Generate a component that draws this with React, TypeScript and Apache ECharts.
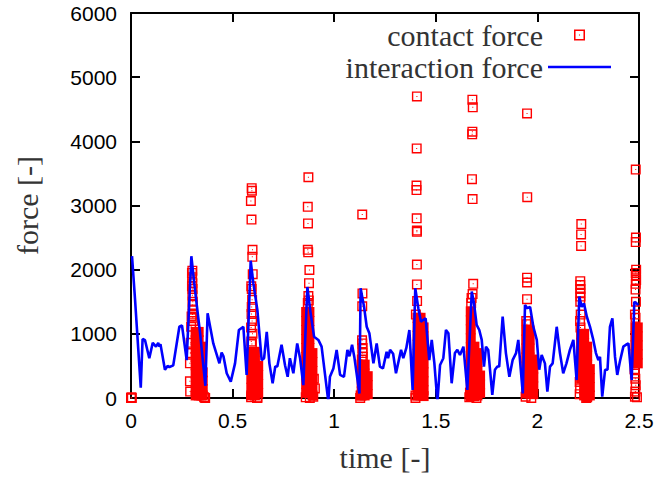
import React, { useEffect, useRef } from "react";
import * as echarts from "echarts";

const xTicks = [0, 0.5, 1, 1.5, 2, 2.5];
const yTicks = [0, 1000, 2000, 3000, 4000, 5000, 6000];
const seriesNames = ["contact force", "interaction force"];
const axisNames = { x: "time [-]", y: "force [-]" };

// interaction force: [time, force]
const interactionForce: [number, number][] = [
  [0.005, 2210], [0.02, 1530], [0.048, 160], [0.057, 920], [0.069, 900], [0.09, 620],
  [0.107, 860], [0.123, 800], [0.134, 860], [0.14, 800], [0.145, 840], [0.167, 440],
  [0.18, 500], [0.189, 480], [0.208, 510], [0.238, 1110], [0.251, 1130], [0.274, 590],
  [0.297, 2210], [0.315, 1680], [0.34, 1010], [0.366, 190], [0.377, 1320], [0.405, 850],
  [0.435, 540], [0.446, 710], [0.455, 650], [0.471, 385], [0.491, 255], [0.512, 540],
  [0.531, 1060], [0.553, 1110], [0.569, 360], [0.589, 2140], [0.602, 1790], [0.622, 1370],
  [0.643, 590], [0.655, 620], [0.668, 1030], [0.681, 540], [0.697, 230], [0.71, 490],
  [0.72, 490], [0.741, 830], [0.758, 510], [0.771, 330], [0.782, 620], [0.799, 385],
  [0.818, 850], [0.832, 620], [0.848, 200], [0.868, 1730], [0.884, 1320], [0.901, 955],
  [0.922, 905], [0.938, 800], [0.971, -50], [0.979, 330], [0.996, 460], [1.012, 750],
  [1.029, 360], [1.048, 330], [1.065, 750], [1.075, 650], [1.088, 830], [1.099, 640],
  [1.124, 70], [1.13, 1710], [1.147, 1420], [1.16, 1110], [1.173, 1010], [1.193, 540],
  [1.209, 850], [1.225, 490], [1.24, 460], [1.258, 720], [1.265, 620], [1.275, 750],
  [1.29, 690], [1.304, 385], [1.329, 750], [1.34, 620], [1.355, 780], [1.37, 1060],
  [1.386, 125], [1.399, 1710], [1.414, 1400], [1.427, 1190], [1.438, 1215], [1.45, 1240],
  [1.468, 590], [1.48, 905], [1.493, 540], [1.508, -60], [1.521, 515], [1.537, 620],
  [1.55, 1060], [1.562, 1010], [1.578, 230], [1.594, 700], [1.606, 750], [1.619, 670],
  [1.636, 800], [1.655, 125], [1.677, 1660], [1.688, 1475], [1.701, 1140], [1.714, 1060],
  [1.726, 905], [1.737, 490], [1.747, 800], [1.758, 750], [1.778, 50], [1.791, 440],
  [1.803, 490], [1.812, 490], [1.829, 1270], [1.845, 700], [1.862, 330], [1.878, 590],
  [1.895, 700], [1.906, 905], [1.928, 70], [1.939, 1450], [1.95, 1400], [1.964, 1420],
  [1.98, 1110], [1.997, 905], [2.009, 440], [2.021, 670], [2.037, 540], [2.049, 100],
  [2.062, 490], [2.075, 540], [2.095, 1110], [2.111, 700], [2.127, 385], [2.143, 540],
  [2.16, 750], [2.177, 905], [2.193, 280], [2.206, 1580], [2.218, 1420], [2.229, 1475],
  [2.243, 1270], [2.259, 1110], [2.275, 905], [2.288, 700], [2.3, 590], [2.308, 640],
  [2.319, 20], [2.333, 440], [2.345, 440], [2.357, 1110], [2.369, 1240], [2.382, 640],
  [2.393, 360], [2.406, 570], [2.423, 800], [2.436, 830], [2.448, 850], [2.464, 280],
  [2.477, 1500], [2.488, 1475], [2.496, 1450],
];

// contact force: individually visible samples [time, force]
const contactForcePoints: [number, number][] = [
  [0, 0], [0.002, 10], [0.004, 0],
  [0.302, 1985], [0.3, 1950], [0.301, 1880], [0.302, 1790], [0.3, 1740], [0.303, 1700],
  [0.302, 1600], [0.304, 1500], [0.303, 1450], [0.305, 1380], [0.303, 1300], [0.298, 1270],
  [0.304, 1250], [0.306, 1200], [0.296, 1110], [0.294, 860], [0.292, 700], [0.29, 540],
  [0.29, 260], [0.291, 100], [0.36, 10], [0.365, 0],
  [0.594, 3270], [0.595, 3230], [0.59, 3070], [0.593, 2780], [0.598, 2310], [0.597, 2200],
  [0.599, 1930], [0.592, 1740], [0.594, 1700], [0.596, 1530], [0.594, 1420], [0.593, 1310],
  [0.596, 1200], [0.591, 1100], [0.598, 1000], [0.592, 880], [0.595, 840], [0.591, 10],
  [0.62, 0], [0.623, 5],
  [0.873, 3440], [0.87, 2980], [0.871, 2720], [0.87, 2310], [0.872, 2270], [0.878, 1995],
  [0.876, 1790], [0.873, 1590], [0.87, 1480], [0.875, 1520], [0.88, 450], [0.9, 300],
  [0.905, 150], [0.86, 10], [0.88, 0], [0.897, 20],
  [1.138, 2860], [1.139, 1630], [1.138, 1430], [1.137, 900], [1.138, 850], [1.14, 780],
  [1.139, 700], [1.141, 640], [1.136, 600], [1.13, 40], [1.128, 0],
  [1.407, 4700], [1.406, 3890], [1.405, 3310], [1.405, 3240], [1.406, 2800], [1.407, 2610],
  [1.407, 2590], [1.407, 2080], [1.407, 1770], [1.408, 1510], [1.402, 1300], [1.4, 40], [1.4, 0],
  [1.68, 4650], [1.682, 4530], [1.68, 4150], [1.679, 4110], [1.678, 3410], [1.681, 3100],
  [1.684, 1780], [1.681, 1620], [1.676, 1560], [1.674, 1480], [1.665, 10], [1.668, 80], [1.7, 0],
  [1.949, 4435], [1.95, 3130], [1.949, 1875], [1.949, 1800], [1.949, 1540], [1.945, 1200],
  [1.948, 1150], [1.942, 20], [1.97, 0],
  [2.216, 2710], [2.215, 2550], [2.215, 2370], [2.211, 1820], [2.211, 1760], [2.212, 1700],
  [2.211, 1640], [2.212, 1580], [2.211, 1500], [2.213, 1300], [2.21, 1200], [2.212, 1100],
  [2.208, 250], [2.21, 150], [2.208, 60], [2.24, 0], [2.245, 10],
  [2.484, 3560], [2.485, 2500], [2.484, 2430], [2.486, 2000], [2.484, 1950], [2.485, 1900],
  [2.486, 1840], [2.484, 1780], [2.483, 1690], [2.485, 1500], [2.48, 1300], [2.483, 1250],
  [2.478, 450], [2.48, 380], [2.482, 300], [2.484, 200], [2.482, 100], [2.48, 20], [2.49, 10],
];

// contact force: densely overlapping samples, per time column [time, forces]
const contactDenseColumns: [number, number[]][] = [
  [0.318, [1030, 900, 770, 640, 510, 380, 250, 120, 40]],
  [0.333, [1030, 900, 770, 640, 510, 380, 250, 120, 40]],
  [0.346, [800, 670, 540, 410, 280, 150, 40]],
  [0.353, [400, 270, 140, 40]],
  [0.592, [720, 580, 440, 300, 160, 40]],
  [0.61, [720, 580, 440, 300, 160, 40]],
  [0.626, [500, 360, 220, 80]],
  [0.862, [1340, 1200, 1060, 920, 780, 640, 500, 360, 220, 80]],
  [0.878, [1340, 1200, 1060, 920, 780, 640, 500, 360, 220, 80]],
  [0.893, [700, 560, 420, 280, 140, 40]],
  [1.135, [520, 380, 240, 100, 40]],
  [1.15, [520, 380, 240, 100, 40]],
  [1.165, [340, 200, 60]],
  [1.41, [1250, 1110, 970, 830, 690, 550, 410, 270, 130, 40]],
  [1.425, [1250, 1110, 970, 830, 690, 550, 410, 270, 130, 40]],
  [1.44, [1100, 960, 820, 680, 540, 400, 260, 120, 30]],
  [1.672, [1350, 1210, 1070, 930, 790, 650, 510, 370, 230, 90, 30]],
  [1.69, [800, 660, 520, 380, 240, 100, 30]],
  [1.705, [700, 560, 420, 280, 140, 40]],
  [1.718, [350, 210, 80]],
  [1.945, [1050, 910, 770, 630, 490, 350, 210, 70]],
  [1.962, [1050, 910, 770, 630, 490, 350, 210, 70]],
  [1.98, [600, 460, 320, 180, 60]],
  [2.215, [1000, 860, 720, 580, 440, 300]],
  [2.23, [1000, 860, 720, 580, 440, 300, 160, 40]],
  [2.245, [800, 660, 520, 380, 240, 100, 30]],
  [2.258, [450, 310, 170, 40]],
  [2.482, [1100, 960, 820, 680]],
  [2.494, [1100, 960, 820, 680, 540]],
];

const RED = "#ff0000";
const BLUE = "#0000ff";
const SQUARE_DOT =
  "path://M0,0L100,0L100,100L0,100Z M14,14L14,86L86,86L86,14Z M45,45L55,45L55,55L45,55Z";
const LINE_ICON = "path://M0,0L63,0L63,2.5L0,2.5Z";
const SERIF = "Liberation Serif";
const SANS = "Liberation Sans";

export default function App() {
  const ref = useRef<HTMLDivElement>(null);
  useEffect(() => {
    if (!ref.current) return;
    const chart = echarts.init(ref.current, undefined, { renderer: "svg" });
    const denseData: [number, number][] = [];
    contactDenseColumns.forEach(([t, fs]) => fs.forEach((f) => denseData.push([t, f])));

    const axisLine = { show: true, onZero: false, lineStyle: { color: "#000", width: 2 } };
    const axisTick = { show: true, inside: true, length: 9, lineStyle: { color: "#000", width: 2 } };
    const plain = (v: number) => String(v);
    const xBase = {
      type: "value" as const,
      min: xTicks[0],
      max: xTicks[xTicks.length - 1],
      interval: xTicks[1] - xTicks[0],
      axisLine,
      axisTick,
      splitLine: { show: false },
    };
    const yBase = {
      type: "value" as const,
      min: yTicks[0],
      max: yTicks[yTicks.length - 1],
      interval: yTicks[1] - yTicks[0],
      axisLine,
      axisTick,
      splitLine: { show: false },
    };

    chart.setOption({
      animation: false,
      grid: { left: 131, right: 18, top: 13, bottom: 79 },
      legend: {
        orient: "vertical",
        right: 46,
        top: 20,
        padding: 0,
        align: "right",
        itemWidth: 63,
        itemHeight: 11,
        itemGap: 2,
        textStyle: {
          fontFamily: SERIF,
          fontSize: 30,
          color: "#333",
          lineHeight: 14,
          padding: [6, 0, 0, 0],
        },
        data: [
          { name: seriesNames[0], icon: SQUARE_DOT },
          { name: seriesNames[1], icon: LINE_ICON },
        ],
      },
      xAxis: [
        {
          ...xBase,
          position: "bottom",
          axisLabel: { margin: 12, fontFamily: SANS, fontSize: 21, color: "#000", formatter: plain },
          name: axisNames.x,
          nameLocation: "middle",
          nameGap: 44,
          nameTextStyle: { fontFamily: SERIF, fontSize: 30, color: "#333" },
        },
        { ...xBase, position: "top", axisLabel: { show: false } },
      ],
      yAxis: [
        {
          ...yBase,
          position: "left",
          axisLabel: { margin: 14, fontFamily: SANS, fontSize: 21, color: "#000", formatter: plain },
          name: axisNames.y,
          nameLocation: "middle",
          nameGap: 89,
          nameTextStyle: { fontFamily: SERIF, fontSize: 30, color: "#333" },
        },
        { ...yBase, position: "right", axisLabel: { show: false } },
      ],
      series: [
        {
          name: seriesNames[0] + " (overlapping samples)",
          type: "scatter",
          xAxisIndex: 0,
          yAxisIndex: 0,
          symbol: "rect",
          symbolSize: 10,
          itemStyle: { color: RED, opacity: 1 },
          data: denseData,
          z: 2,
        },
        {
          name: seriesNames[0],
          type: "scatter",
          xAxisIndex: 0,
          yAxisIndex: 0,
          symbol: SQUARE_DOT,
          symbolSize: 10,
          itemStyle: { color: RED, opacity: 1 },
          data: contactForcePoints,
          z: 2,
        },
        {
          name: seriesNames[1],
          type: "line",
          xAxisIndex: 0,
          yAxisIndex: 0,
          symbol: "none",
          lineStyle: { color: BLUE, width: 2.6 },
          itemStyle: { color: BLUE },
          data: interactionForce,
          z: 3,
        },
      ],
    });
    return () => chart.dispose();
  }, []);
  return (
    <div
      ref={ref}
      style={{ position: "fixed", left: 0, top: 0, width: 657, height: 477, background: "#fff" }}
    />
  );
}
